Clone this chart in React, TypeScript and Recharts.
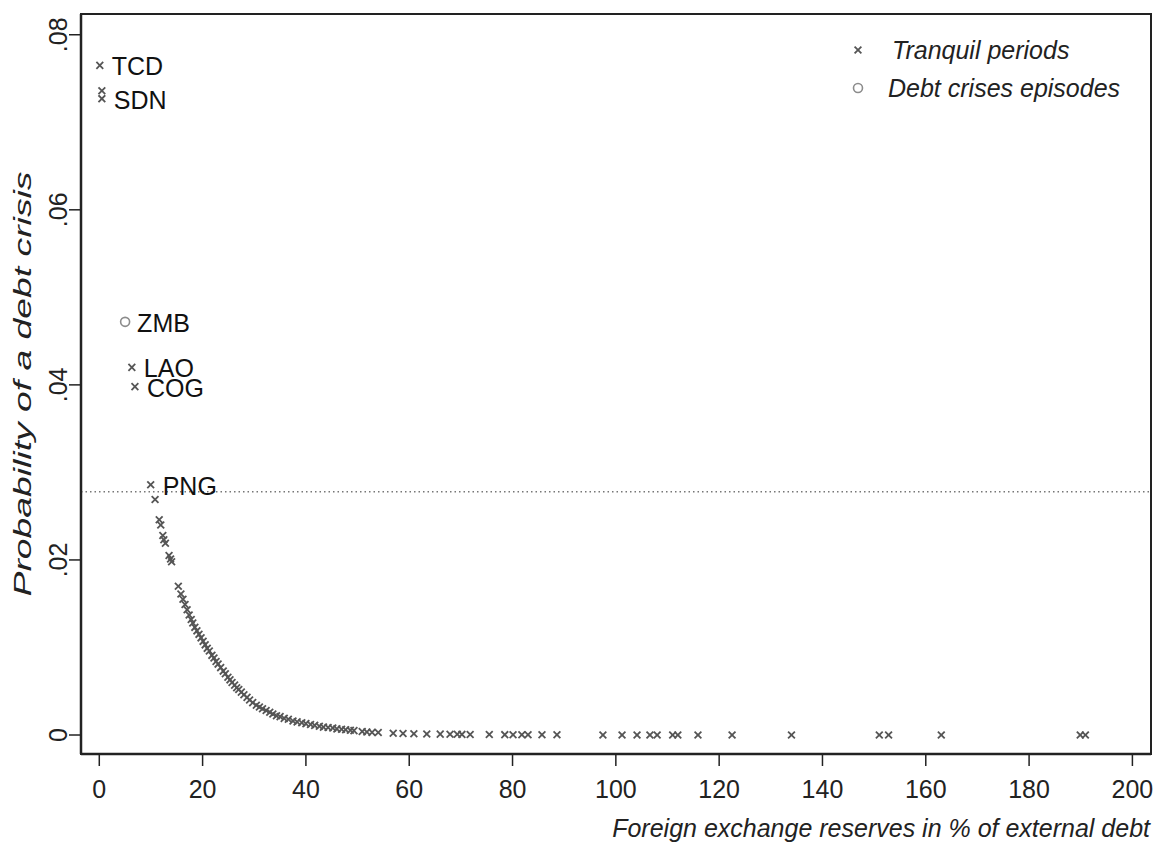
import { ScatterChart, Scatter, XAxis, YAxis, ReferenceLine, ReferenceArea } from "recharts";

// reserves (% of external debt) and predicted probability
const curveReserves = [
  10.8, 11.6, 11.9, 12.3, 12.5, 12.8, 13.5, 13.8, 14.0, 15.3, 15.8, 16.2, 16.6, 17.0, 17.4, 17.8,
  18.1, 18.5, 18.9, 19.3, 19.7, 20.1, 20.5, 20.9, 21.3, 21.8, 22.2, 22.6, 23.0, 23.5, 24.0, 24.4,
  24.9, 25.3, 25.7, 26.2, 26.6, 27.0, 27.5, 28.0, 28.6, 29.1, 29.7, 30.4, 31.0, 31.6, 32.3, 33.0,
  33.6, 34.3, 35.0, 35.8, 36.6, 37.5, 38.3, 39.2, 40.0, 40.9, 41.7, 42.6, 43.4, 44.3, 45.2, 46.0,
  46.9, 47.7, 48.6, 49.3, 50.9, 51.8, 52.8, 54.0, 56.9, 58.8, 60.9, 63.4, 66.0, 67.9, 69.3, 70.2,
  71.8, 75.5, 78.5, 80.1, 81.8, 83.0, 85.7, 88.6, 97.5, 101.2, 104.1, 106.6, 108.0, 111.0, 112.0,
  115.9, 122.5, 134.0, 151.0, 152.8, 163.0, 189.9, 190.9,
];
const curveProb = [
  0.0269, 0.0246, 0.024, 0.0228, 0.0223, 0.0219, 0.0205, 0.0201, 0.0198, 0.017, 0.0161, 0.0155, 0.0149, 0.0143, 0.0137, 0.0132,
  0.0128, 0.0123, 0.0119, 0.0115, 0.0111, 0.0107, 0.0103, 0.0099, 0.0096, 0.0091, 0.0088, 0.0084, 0.0081, 0.0077, 0.0073, 0.007,
  0.0066, 0.0063, 0.006, 0.0057, 0.0054, 0.0052, 0.0049, 0.0046, 0.0043, 0.004, 0.0037, 0.0034, 0.0032, 0.003, 0.0028, 0.0026,
  0.0024, 0.0022, 0.0021, 0.0019, 0.0018, 0.0016, 0.0015, 0.0014, 0.0013, 0.0012, 0.0011, 0.001, 0.0009, 0.00085, 0.0008, 0.0007,
  0.00065, 0.0006, 0.00055, 0.0005, 0.0004, 0.00035, 0.0003, 0.00028, 0.0002, 0.00018, 0.00015, 0.00012, 0.0001, 0.00009, 0.00008, 0.00007,
  0.00006, 0.00005, 0.00004, 0.00003, 0.00003, 0.00003, 0.00002, 0.00002, 0.00001, 0.00001, 0.00001, 0.00001, 0.00001, 0, 0,
  0, 0, 0, 0, 0, 0, 0, 0,
];

// labelled countries
const tranquilNames = ["TCD", "", "SDN", "LAO", "COG", "PNG"];
const tranquilReserves = [0.1, 0.5, 0.5, 6.3, 6.9, 9.95];
const tranquilProb = [0.0765, 0.0736, 0.0727, 0.042, 0.0398, 0.0286];

const crisisNames = ["ZMB"];
const crisisReserves = [5.0];
const crisisProb = [0.0472];

const xTicks = [0, 20, 40, 60, 80, 100, 120, 140, 160, 180, 200];
const yTicks = [0, 0.02, 0.04, 0.06, 0.08];
const threshold = 0.0278;

const tranquilData = [
  ...tranquilNames.map((name, i) => ({ name, x: tranquilReserves[i], y: tranquilProb[i] })),
  ...curveReserves.map((x, i) => ({ name: "", x, y: curveProb[i] })),
];
const crisisData = crisisNames.map((name, i) => ({ name, x: crisisReserves[i], y: crisisProb[i] }));

const FONT = "'Liberation Sans', Arial, sans-serif";
const MARK = "#555";

const Cross = (props: any) => {
  const { cx, cy } = props;
  const name = props.payload?.name;
  const s = 3.4;
  return (
    <g>
      <line x1={cx - s} y1={cy - s} x2={cx + s} y2={cy + s} stroke={MARK} strokeWidth={1.8} />
      <line x1={cx - s} y1={cy + s} x2={cx + s} y2={cy - s} stroke={MARK} strokeWidth={1.8} />
      {name ? (
        <text x={cx + 12} y={cy + 1} dominantBaseline="central" fontFamily={FONT} fontSize={25} fill="#111">
          {name}
        </text>
      ) : null}
    </g>
  );
};

const Ring = (props: any) => {
  const { cx, cy } = props;
  const name = props.payload?.name;
  return (
    <g>
      <circle cx={cx} cy={cy} r={4.5} fill="none" stroke="#8c8c8c" strokeWidth={1.6} />
      {name ? (
        <text x={cx + 12} y={cy + 1} dominantBaseline="central" fontFamily={FONT} fontSize={25} fill="#111">
          {name}
        </text>
      ) : null}
    </g>
  );
};

const YTick = (props: any) => {
  const { y, payload } = props;
  const v = payload.value;
  const txt = v === 0 ? "0" : v.toFixed(2).replace(/^0/, "");
  return (
    <text x={67} y={y} transform={`rotate(-90, 67, ${y})`} textAnchor="middle" fontFamily={FONT} fontSize={25} fill="#222">
      {txt}
    </text>
  );
};

const YTitle = (props: any) => {
  const vb = props.viewBox || { y: 14, height: 740 };
  const cy = vb.y + vb.height / 2;
  return (
    <text
      x={31}
      y={cy}
      transform={`rotate(-90, 31, ${cy})`}
      textAnchor="middle"
      textLength={425}
      lengthAdjust="spacingAndGlyphs"
      fontFamily={FONT}
      fontSize={24}
      fontStyle="italic"
      fill="#222"
    >
      Probability of a debt crisis
    </text>
  );
};

export default function App() {
  return (
    <div style={{ position: "absolute", left: 0, top: 0, width: 1156, height: 844, background: "#fff" }}>
      <ScatterChart width={1156} height={844} margin={{ top: 14, right: 5, bottom: 6, left: 0 }}>
        <XAxis
          type="number"
          dataKey="x"
          domain={[-3.54, 203.6]}
          ticks={xTicks}
          allowDataOverflow
          height={84}
          tickSize={12}
          tickMargin={14}
          stroke="#222"
          axisLine={{ stroke: "#222", strokeWidth: 2.5 }}
          tickLine={{ stroke: "#222", strokeWidth: 1.5 }}
          tick={{ fill: "#222", fontSize: 25, fontFamily: FONT }}
          label={{
            value: "Foreign exchange reserves in % of external debt",
            position: "insideBottomRight",
            offset: 1,
            style: { fontFamily: FONT, fontSize: 25, fontStyle: "italic", fill: "#222" },
          }}
        />
        <YAxis
          type="number"
          dataKey="y"
          domain={[-0.00217, 0.08237]}
          ticks={yTicks}
          allowDataOverflow
          width={81}
          tickSize={12}
          stroke="#222"
          axisLine={{ stroke: "#222", strokeWidth: 2.5 }}
          tickLine={{ stroke: "#222", strokeWidth: 1.5 }}
          tick={<YTick />}
          label={{ content: <YTitle /> }}
        />
        <ReferenceArea x1={-3.54} x2={203.6} y1={-0.00217} y2={0.08237} fill="none" stroke="#222" strokeWidth={2} ifOverflow="visible" />
        <ReferenceLine y={threshold} stroke="#777" strokeWidth={1.5} strokeDasharray="1.5 3" />
        <Scatter data={tranquilData} shape={<Cross />} isAnimationActive={false} />
        <Scatter data={crisisData} shape={<Ring />} isAnimationActive={false} />
      </ScatterChart>
      <div style={{ position: "absolute", left: 846, top: 31, fontFamily: FONT, fontSize: 25, fontStyle: "italic", color: "#222", lineHeight: "38px" }}>
        <div style={{ display: "flex", alignItems: "center" }}>
          <svg width={24} height={24} style={{ marginRight: 22 }}>
            <line x1={8.6} y1={8.6} x2={15.4} y2={15.4} stroke={MARK} strokeWidth={1.8} />
            <line x1={8.6} y1={15.4} x2={15.4} y2={8.6} stroke={MARK} strokeWidth={1.8} />
          </svg>
          Tranquil periods
        </div>
        <div style={{ display: "flex", alignItems: "center" }}>
          <svg width={24} height={24} style={{ marginRight: 18 }}>
            <circle cx={12} cy={12} r={4.5} fill="none" stroke="#8c8c8c" strokeWidth={1.6} />
          </svg>
          Debt crises episodes
        </div>
      </div>
    </div>
  );
}
